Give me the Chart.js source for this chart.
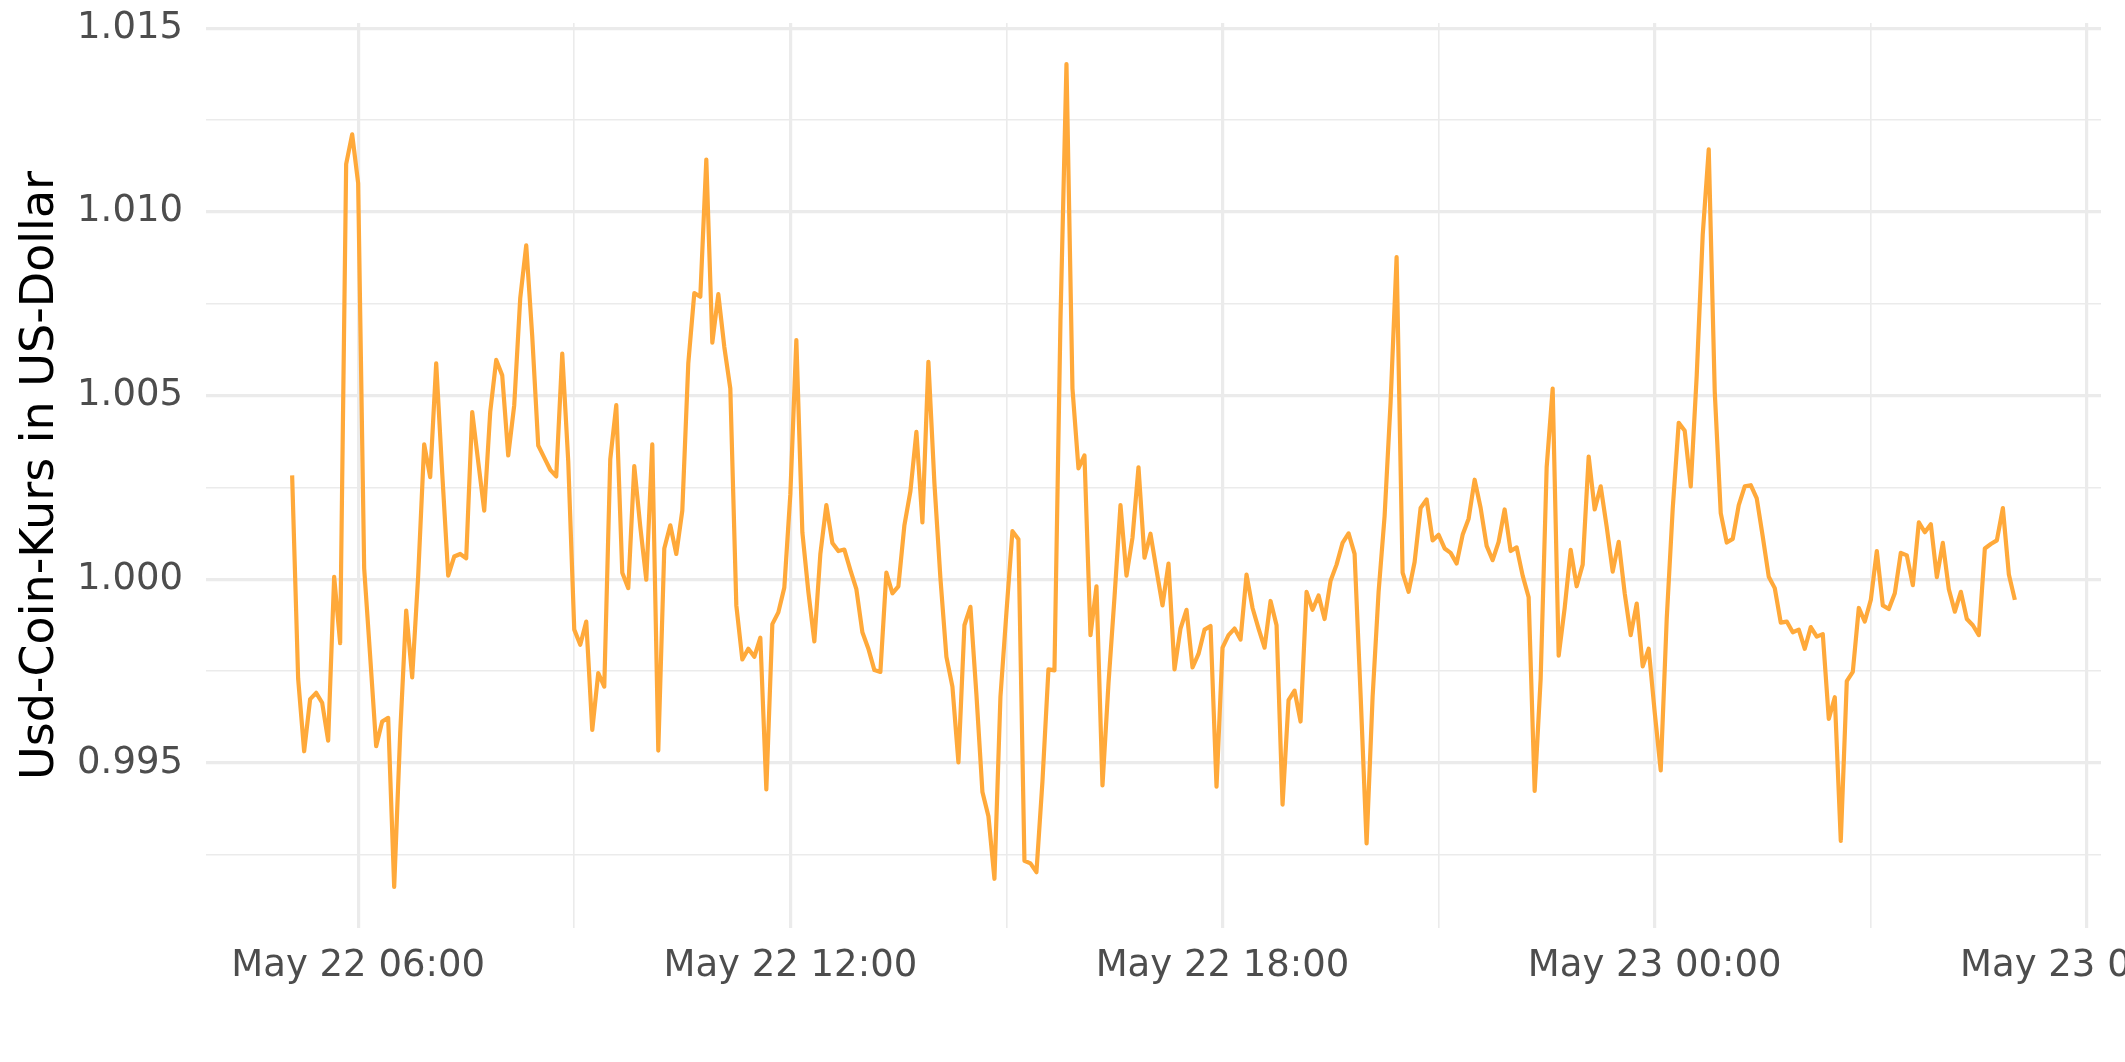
<!DOCTYPE html>
<html>
<head>
<meta charset="utf-8">
<script src="https://cdn.jsdelivr.net/npm/chart.js@4.4.1/dist/chart.umd.min.js"></script>
<style>
  html, body { margin: 0; padding: 0; background: #fff; }
  #wrap { width: 2125px; height: 1062px; }
</style>
</head>
<body>
<div id="wrap"><canvas id="chart" width="2125" height="1062"></canvas></div>
<script>
// USDC price in USD, 5-minute samples, 22 May 05:05 -> 23 May 05:00
const startHour = 5 + 5 / 60;   // hours after 22 May 00:00
const stepMinutes = 5;

const usdcPrice = [
  1.00283, 0.99730, 0.99532, 0.99674, 0.99691, 0.99664, 0.99561, 1.00007, 0.99826, 1.01130,
  1.01211, 1.01078, 1.00030, 0.99790, 0.99546, 0.99613, 0.99623, 0.99163, 0.99580, 0.99915,
  0.99733, 1.00010, 1.00367, 1.00278, 1.00588, 1.00290, 1.00010, 1.00062, 1.00069, 1.00057,
  1.00455, 1.00320, 1.00187, 1.00455, 1.00597, 1.00555, 1.00337, 1.00474, 1.00765, 1.00909,
  1.00661, 1.00364, 1.00331, 1.00298, 1.00280, 1.00614, 1.00320, 0.99863, 0.99822, 0.99885,
  0.99590, 0.99745, 0.99708, 1.00327, 1.00474, 1.00018, 0.99976, 1.00308, 1.00143, 0.99999,
  1.00367, 0.99534, 1.00084, 1.00147, 1.00069, 1.00187, 1.00588, 1.00779, 1.00769, 1.01142,
  1.00644, 1.00776, 1.00632, 1.00519, 0.99929, 0.99782, 0.99811, 0.99789, 0.99841, 0.99428,
  0.99878, 0.99910, 0.99978, 1.00231, 1.00651, 1.00128, 0.99966, 0.99831, 1.00069, 1.00202,
  1.00099, 1.00077, 1.00081, 1.00025, 0.99973, 0.99856, 0.99811, 0.99753, 0.99748, 1.00018,
  0.99962, 0.99981, 1.00147, 1.00239, 1.00401, 1.00155, 1.00592, 1.00262, 1.00003, 0.99789,
  0.99708, 0.99502, 0.99875, 0.99925, 0.99686, 0.99421, 0.99355, 0.99185, 0.99680, 0.99910,
  1.00131, 1.00109, 0.99234, 0.99227, 0.99203, 0.99450, 0.99755, 0.99752, 1.00703, 1.01402,
  1.00519, 1.00302, 1.00337, 0.99848, 0.99981, 0.99439, 0.99716, 0.99951, 1.00202, 1.00010,
  1.00113, 1.00305, 1.00059, 1.00124, 1.00025, 0.99929, 1.00043, 0.99755, 0.99866, 0.99917,
  0.99760, 0.99797, 0.99863, 0.99873, 0.99436, 0.99814, 0.99848, 0.99866, 0.99836, 1.00013,
  0.99922, 0.99866, 0.99814, 0.99941, 0.99875, 0.99387, 0.99671, 0.99697, 0.99613, 0.99966,
  0.99917, 0.99956, 0.99892, 0.99996, 1.00040, 1.00099, 1.00125, 1.00069, 0.99686, 0.99281,
  0.99679, 0.99966, 1.00172, 1.00482, 1.00877, 1.00018, 0.99966, 1.00047, 1.00194, 1.00217,
  1.00106, 1.00121, 1.00084, 1.00072, 1.00043, 1.00121, 1.00165, 1.00271, 1.00194, 1.00091,
  1.00052, 1.00102, 1.00190, 1.00077, 1.00087, 1.00010, 0.99951, 0.99424, 0.99730, 1.00305,
  1.00519, 0.99792, 0.99922, 1.00080, 0.99981, 1.00040, 1.00334, 1.00190, 1.00253, 1.00143,
  1.00021, 1.00102, 0.99962, 0.99848, 0.99934, 0.99763, 0.99811, 0.99638, 0.99480, 0.99892,
  1.00192, 1.00426, 1.00404, 1.00253, 1.00555, 1.00938, 1.01170, 1.00511, 1.00180, 1.00100,
  1.00110, 1.00202, 1.00253, 1.00256, 1.00220, 1.00116, 1.00007, 0.99976, 0.99882, 0.99885,
  0.99856, 0.99863, 0.99811, 0.99870, 0.99844, 0.99851, 0.99620, 0.99679, 0.99288, 0.99723,
  0.99748, 0.99922, 0.99885, 0.99944, 1.00077, 0.99929, 0.99919, 0.99962, 1.00072, 1.00065,
  0.99984, 1.00155, 1.00128, 1.00150, 1.00006, 1.00099, 0.99973, 0.99912, 0.99966, 0.99892,
  0.99875, 0.99848, 1.00084, 1.00096, 1.00106, 1.00194, 1.00013, 0.99944
];

// axis breaks (x in hours after 22 May 00:00)
const xMajorHours = [6, 12, 18, 24, 30];
const xMajorLabels = ['May 22 06:00', 'May 22 12:00', 'May 22 18:00', 'May 23 00:00', 'May 23 06:00'];
const xMinorHours = [9, 15, 21, 27];
const yMajorValues = [0.995, 1.000, 1.005, 1.010, 1.015];
const yMajorLabels = ['0.995', '1.000', '1.005', '1.010', '1.015'];
const yMinorValues = [0.9925, 0.9975, 1.0025, 1.0075, 1.0125];

const points = usdcPrice.map((v, i) => ({ x: startHour + i * stepMinutes / 60, y: v }));

// ggplot-style 5% expansion
function expand(lo, hi) {
  const pad = (hi - lo) * 0.05;
  return [lo - pad, hi + pad];
}
const [xMin, xMax] = expand(points[0].x, points[points.length - 1].x);
const [yMin, yMax] = expand(Math.min(...usdcPrice), Math.max(...usdcPrice));

function findIndex(list, v) {
  return list.findIndex(t => Math.abs(t - v) < 1e-7);
}

const tickFont = { family: 'DejaVu Sans', size: 37 };
const gridColor = '#EBEBEB';

new Chart(document.getElementById('chart'), {
  type: 'line',
  data: {
    datasets: [{
      data: points,
      borderColor: '#FFA93A',
      borderWidth: 4.2,
      borderJoinStyle: 'round',
      pointRadius: 0,
      tension: 0,
      fill: false
    }]
  },
  options: {
    responsive: false,
    animation: false,
    devicePixelRatio: 1,
    layout: { padding: { left: 0, right: 24, top: 23, bottom: 0 } },
    plugins: { legend: { display: false }, tooltip: { enabled: false } },
    scales: {
      x: {
        type: 'linear',
        min: xMin,
        max: xMax,
        afterBuildTicks: axis => {
          axis.ticks = xMajorHours.concat(xMinorHours).sort((a, b) => a - b).map(v => ({ value: v }));
        },
        afterFit: axis => {
          axis.height = 134;
          axis.paddingLeft = 0;
          axis.paddingRight = 0;
        },
        ticks: {
          autoSkip: false,
          maxRotation: 0,
          minRotation: 0,
          padding: 16,
          color: '#4D4D4D',
          font: tickFont,
          callback: v => {
            const k = findIndex(xMajorHours, v);
            return k >= 0 ? xMajorLabels[k] : '';
          }
        },
        grid: {
          color: gridColor,
          drawTicks: false,
          lineWidth: ctx => (findIndex(xMajorHours, ctx.tick.value) >= 0 ? 3.2 : 1.6)
        },
        border: { display: false }
      },
      y: {
        type: 'linear',
        min: yMin,
        max: yMax,
        afterBuildTicks: axis => {
          axis.ticks = yMajorValues.concat(yMinorValues).sort((a, b) => a - b).map(v => ({ value: v }));
        },
        afterFit: axis => {
          axis.width = 206;
          axis.paddingTop = 0;
          axis.paddingBottom = 0;
        },
        ticks: {
          padding: 23,
          color: '#4D4D4D',
          font: tickFont,
          callback: v => {
            const k = findIndex(yMajorValues, v);
            return k >= 0 ? yMajorLabels[k] : '';
          }
        },
        grid: {
          color: gridColor,
          drawTicks: false,
          lineWidth: ctx => (findIndex(yMajorValues, ctx.tick.value) >= 0 ? 3.2 : 1.6)
        },
        border: { display: false },
        title: {
          display: true,
          text: 'Usd-Coin-Kurs in US-Dollar',
          color: '#000000',
          font: { family: 'DejaVu Sans', size: 46 },
          padding: { top: 13, bottom: 0 }
        }
      }
    }
  }
});
</script>
</body>
</html>
